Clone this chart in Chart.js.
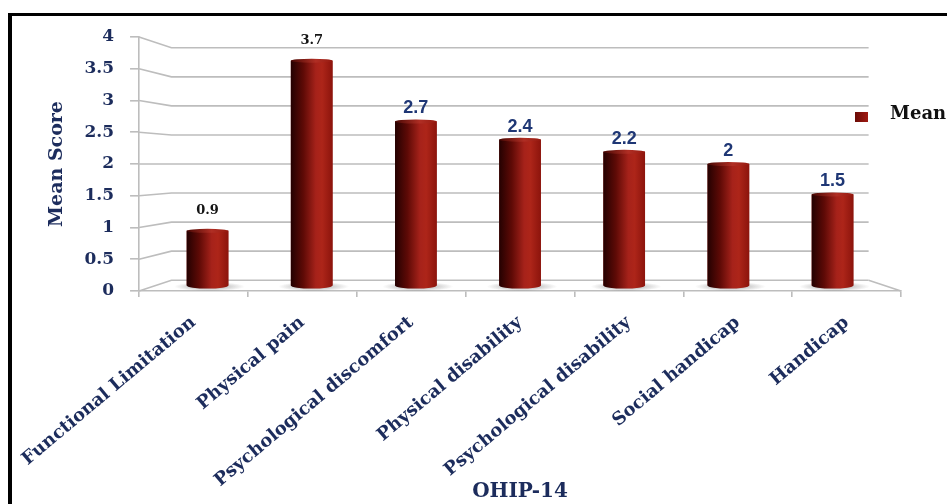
<!DOCTYPE html>
<html>
<head>
<meta charset="utf-8">
<title>OHIP-14 mean scores</title>
<script src="https://cdn.jsdelivr.net/npm/chart.js@4.4.1/dist/chart.umd.min.js"></script>
<style>
  html, body { margin: 0; padding: 0; background: #fff; overflow: hidden; }
  #wrap { position: relative; width: 947px; height: 504px; }
  #frame { position: absolute; left: 8px; top: 13px; right: -10px; bottom: -10px;
           border-top: 3px solid #000; border-left: 4px solid #000; pointer-events: none; }
</style>
</head>
<body>
<div id="wrap">
  <canvas id="chart" width="947" height="504"></canvas>
  <div id="frame"></div>
</div>
<script>
/* ─── Data ───────────────────────────────────────────────────────────────── */
const categories = ['Functional Limitation', 'Physical pain', 'Psychological discomfort',
  'Physical disability', 'Psychological disability', 'Social handicap', 'Handicap'];
const meanScores = [0.9, 3.7, 2.7, 2.4, 2.2, 2, 1.5];
const yTicks     = [0, 0.5, 1, 1.5, 2, 2.5, 3, 3.5, 4];
const seriesName = 'Mean';
const xTitle     = 'OHIP-14';
const yTitle     = 'Mean Score';

/* ─── Look ───────────────────────────────────────────────────────────────── */
const NAVY  = '#1c2c5c';
const GRID  = '#bdbdbd';
const SERIF = "'DejaVu Serif', serif";
const SANS  = "'Liberation Sans', Arial, sans-serif";

// fake 3D box: chart area is the front plane, bars stand part way back
const MID  = 0.957;
const BACK = 0.915;

// first two value labels are set in black serif, the rest in blue sans
const labelStyle = meanScores.map((v, i) => i < 2
  ? { font: `bold 13px ${SERIF}`, color: '#151515', gap: 17 }
  : { font: `bold 18px ${SANS}`,  color: '#1f3775', gap: 8 });

function toDepth(a, x, y, k) {
  const cx = (a.left + a.right) / 2, cy = (a.top + a.bottom) / 2;
  return { x: cx + (x - cx) * k, y: cy + (y - cy) * k };
}

// hidden axes the bars use, shrunk toward the centre by MID
const nCat = categories.length;
const xMid = (nCat - 1) / 2, xHalf = nCat / 2 / MID;
const yTop = yTicks[yTicks.length - 1];
const yMid = yTop / 2, yHalf = yTop / 2 / MID;

/* ─── Plugins ────────────────────────────────────────────────────────────── */
const box3d = {
  id: 'box3d',
  beforeDatasetsDraw(chart) {
    const { ctx, chartArea: a, scales: { y } } = chart;
    ctx.save();
    ctx.strokeStyle = GRID;
    ctx.lineWidth = 1.6;
    yTicks.forEach(v => {
      const py = y.getPixelForValue(v);
      const b  = toDepth(a, a.left, py, BACK);
      const br = toDepth(a, a.right, py, BACK);
      ctx.beginPath();
      ctx.moveTo(a.left, py);
      ctx.lineTo(b.x, b.y);
      ctx.lineTo(br.x, b.y);
      ctx.stroke();
    });
    const fr = toDepth(a, a.right, a.bottom, BACK);
    ctx.beginPath();
    ctx.moveTo(a.right, a.bottom);
    ctx.lineTo(fr.x, fr.y);
    ctx.stroke();

    // soft shadow on the floor under each bar
    chart.getDatasetMeta(0).data.forEach(bar => {
      const { x, base, width } = bar.getProps(['x', 'base', 'width'], true);
      ctx.save();
      ctx.translate(x + 2, base + 1);
      ctx.scale(1, 0.13);
      const r = width * 0.85;
      const g = ctx.createRadialGradient(0, 0, 0, 0, 0, r);
      g.addColorStop(0, 'rgba(60,60,60,0.5)');
      g.addColorStop(1, 'rgba(60,60,60,0)');
      ctx.fillStyle = g;
      ctx.beginPath();
      ctx.arc(0, 0, r, 0, Math.PI * 2);
      ctx.fill();
      ctx.restore();
    });
    ctx.restore();
  }
};

const cylinders = {
  id: 'cylinders',
  afterDatasetsDraw(chart) {
    const ctx = chart.ctx;
    ctx.save();
    chart.getDatasetMeta(0).data.forEach((bar, i) => {
      const { x, y, base, width } = bar.getProps(['x', 'y', 'base', 'width'], true);
      const l = x - width / 2, r = x + width / 2, ry = 2;

      const body = ctx.createLinearGradient(l, 0, r, 0);
      body.addColorStop(0, '#240101');
      body.addColorStop(0.3, '#5e0a06');
      body.addColorStop(0.6, '#a6221a');
      body.addColorStop(0.75, '#ad2519');
      body.addColorStop(1, '#8c140c');
      ctx.fillStyle = body;
      ctx.beginPath();
      ctx.moveTo(l, y);
      ctx.lineTo(l, base);
      ctx.ellipse(x, base, width / 2, ry + 1, 0, Math.PI, 0, true);
      ctx.lineTo(r, y);
      ctx.closePath();
      ctx.fill();

      const cap = ctx.createLinearGradient(l, 0, r, 0);
      cap.addColorStop(0, '#4a0804');
      cap.addColorStop(0.6, '#b02e24');
      cap.addColorStop(1, '#961a10');
      ctx.fillStyle = cap;
      ctx.beginPath();
      ctx.ellipse(x, y, width / 2, ry, 0, 0, Math.PI * 2);
      ctx.fill();

      const st = labelStyle[i];
      ctx.font = st.font;
      ctx.fillStyle = st.color;
      ctx.textAlign = 'center';
      ctx.textBaseline = 'alphabetic';
      ctx.fillText(String(meanScores[i]), x, y - st.gap);
    });
    ctx.restore();
  }
};

const sideLegend = {
  id: 'sideLegend',
  afterDraw(chart) {
    const { ctx, chartArea: a } = chart;
    const bx = a.right - 46, by = a.top + 75;
    ctx.save();
    const g = ctx.createLinearGradient(bx, 0, bx + 13, 0);
    g.addColorStop(0, '#6a0b06');
    g.addColorStop(1, '#a01a12');
    ctx.fillStyle = g;
    ctx.fillRect(bx, by, 13, 10);
    ctx.font = `bold 18px ${SERIF}`;
    ctx.fillStyle = '#111';
    ctx.textAlign = 'left';
    ctx.textBaseline = 'middle';
    ctx.fillText(chart.data.datasets[0].label, bx + 35, by + 2);
    ctx.restore();
  }
};

/* ─── Chart ──────────────────────────────────────────────────────────────── */
new Chart(document.getElementById('chart'), {
  type: 'bar',
  data: {
    labels: categories,
    datasets: [{
      label: seriesName,
      data: meanScores.map((v, i) => ({ x: i, y: v })),
      xAxisID: 'xb',
      yAxisID: 'yb',
      backgroundColor: '#8e1610',
      borderWidth: 0,
      barPercentage: 0.4,
      categoryPercentage: 1
    }]
  },
  options: {
    responsive: false,
    animation: false,
    devicePixelRatio: 1,
    layout: { padding: { top: 37, right: 46, left: 0, bottom: 0 } },
    plugins: { legend: { display: false }, tooltip: { enabled: false } },
    scales: {
      x: {
        type: 'category',
        offset: true,
        grid: { offset: true, drawOnChartArea: false, color: GRID, lineWidth: 1.6, tickLength: 6 },
        border: { color: GRID, width: 1.6 },
        ticks: {
          autoSkip: false, minRotation: 40, maxRotation: 40, padding: 15,
          color: NAVY, font: { family: SERIF, size: 18, weight: 'bold' }
        },
        title: {
          display: true, text: xTitle, color: NAVY, padding: { top: 0, bottom: 0 },
          font: { family: SERIF, size: 20, weight: 'bold' }
        },
        afterFit: s => { s.height = 213; }
      },
      y: {
        type: 'linear',
        min: 0, max: yTop,
        grid: { drawOnChartArea: false, color: GRID, lineWidth: 1.6, tickLength: 9 },
        border: { color: GRID, width: 1.6 },
        ticks: {
          padding: 16, color: NAVY, callback: v => String(v),
          font: { family: SERIF, size: 17, weight: 'bold' }
        },
        afterBuildTicks: s => { s.ticks = yTicks.map(v => ({ value: v })); },
        title: {
          display: true, text: yTitle, color: NAVY, padding: { top: 44, bottom: 0 },
          font: { family: SERIF, size: 19, weight: 'bold' }
        },
        afterFit: s => { s.width = 137; }
      },
      xb: { type: 'linear', display: false, offset: false, min: xMid - xHalf, max: xMid + xHalf },
      yb: { type: 'linear', display: false, min: yMid - yHalf, max: yMid + yHalf }
    }
  },
  plugins: [box3d, cylinders, sideLegend]
});
</script>
</body>
</html>
